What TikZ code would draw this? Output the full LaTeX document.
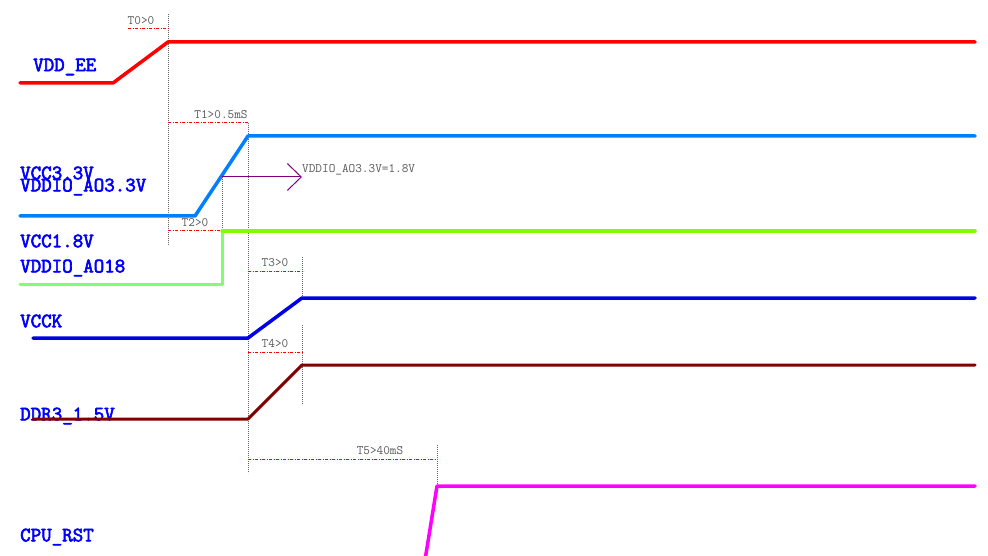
\documentclass[tikz,border=0pt]{standalone}
\usepackage{fontspec}
\newfontfamily\railfont{Latin Modern Mono}[FakeBold=3]
\usepackage{tikz}
\usetikzlibrary{arrows.meta, positioning}
\definecolor{eecolor}{RGB}{255,0,0}
\definecolor{iocolor}{RGB}{0,128,255}
\definecolor{lvcolor}{RGB}{128,255,0}
\definecolor{lvlow}{RGB}{128,255,110}
\definecolor{corecolor}{RGB}{0,0,230}
\definecolor{ddrcolor}{RGB}{128,0,0}
\definecolor{rstcolor}{RGB}{255,0,255}
\definecolor{notecolor}{RGB}{128,0,128}
\tikzstyle{rail}=[line width=3.5pt, line cap=round, line join=round]
\tikzstyle{signame}=[anchor=west, inner sep=0pt, text=blue, font=\railfont\fontsize{20.4}{21}\selectfont]
\tikzstyle{timing}=[inner sep=0pt, text=black!65, font=\ttfamily\fontsize{12.9}{13}\selectfont]
\tikzstyle{gap}=[draw=red, line width=1pt, dash pattern=on 3pt off 1.5pt on 1pt off 1.5pt]
\tikzstyle{marker}=[draw=black!60, line width=0.8pt, dash pattern=on 0.8pt off 1.2pt]

\begin{document}
\begin{tikzpicture}[x=1pt, y=-1pt]
  \useasboundingbox[fill=white] (0,0) rectangle (988,556);

  % signal names
  \node[signame] (ee) at (33,67) {VDD\_EE};
  \node[signame] (v33) at (20,173) {VCC3.3V};
  \node[signame] (io33) at (20,187) {VDDIO\_AO3.3V};
  \node[signame] (v18) at (20,241) {VCC1.8V};
  \node[signame] (io18) at (20,268) {VDDIO\_AO18};
  \node[signame] (vcck) at (20,321) {VCCK};
  \node[signame] (ddr) at (20,416) {DDR3\_1.5V};
  \node[signame] (rst) at (20,537) {CPU\_RST};

  % edges of the waveforms
  \coordinate (ee0) at (20,83);   \coordinate (ee1) at (113,83);
  \coordinate (ee2) at (168,42);  \coordinate (ee3) at (975,42);
  \coordinate (io0) at (20,216);  \coordinate (io1) at (195,216);
  \coordinate (io2) at (248,136); \coordinate (io3) at (975,136);
  \coordinate (lv0) at (20,284);  \coordinate (lv1) at (222,284);
  \coordinate (lv2) at (222,231); \coordinate (lv3) at (975,231);
  \coordinate (ck0) at (33,338);  \coordinate (ck1) at (248,338);
  \coordinate (ck2) at (302,298); \coordinate (ck3) at (975,298);
  \coordinate (dr0) at (33,419);  \coordinate (dr1) at (248,419);
  \coordinate (dr2) at (302,365); \coordinate (dr3) at (975,365);
  \coordinate (rs0) at (425,560); \coordinate (rs1) at (437,486);
  \coordinate (rs2) at (975,486);

  % markers
  \draw[marker] (168,14) -- (168,245);
  \draw[marker] (248,123) -- (248,473);
  \draw[marker] (222,177) -- (lv2);
  \draw[marker] (302,257) -- (ck2);
  \draw[marker] (302,325) -- (302,405);
  \draw[marker] (437,445) -- (rs1);

  % delays
  \draw[gap] (128,29) -- (168,29);
  \node[timing] (t0) at (141,21) {T0>0};
  \draw[gap] (168,123) -- (248,123);
  \node[timing] (t1) at (221,115) {T1>0.5mS};
  \draw[gap] (168,231) -- (lv2);
  \node[timing] (t2) at (195,223) {T2>0};
  \draw[gap] (248,271) -- (302,271);
  \node[timing] (t3) at (275,263) {T3>0};
  \draw[gap] (248,352) -- (302,352);
  \node[timing] (t4) at (275,344) {T4>0};
  \draw[gap] (248,459) -- (437,459);
  \node[timing] (t5) at (380,451) {T5>40mS};

  % waveforms
  \draw[rail, eecolor] (ee0) -- (ee1) -- (ee2) -- (ee3);
  \draw[rail, iocolor] (io0) -- (io1) -- (io2) -- (io3);
  \draw[rail, lvlow, line width=3pt] (lv0) -- (lv1) -- (lv2);
  \draw[rail, lvcolor] (lv2) -- (lv3);
  \draw[rail, corecolor] (ck0) -- (ck1) -- (ck2) -- (ck3);
  \draw[rail, ddrcolor, line width=3pt] (dr0) -- (dr1) -- (dr2) -- (dr3);
  \draw[rail, rstcolor] (rs0) -- (rs1) -- (rs2);

  % 1.8V threshold
  \coordinate (th0) at (222,177);
  \node[timing, anchor=west] (th) at (302,170) {VDDIO\_AO3.3V=1.8V};
  \draw[notecolor, line width=1pt, -{Straight Barb[length=14pt, width=27pt]}] (th0) -- (302,177);
\end{tikzpicture}
\end{document}
